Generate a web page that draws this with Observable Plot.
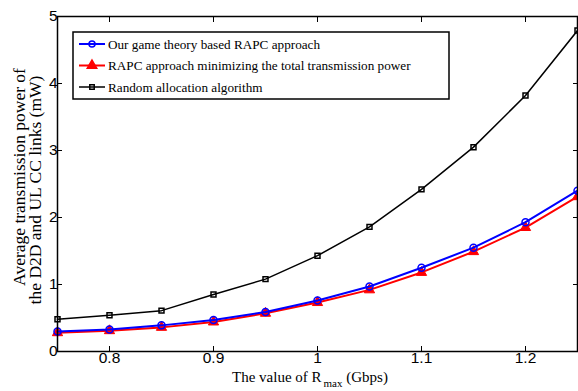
<!DOCTYPE html>
<html>
<head>
<meta charset="utf-8">
<script src="https://cdn.jsdelivr.net/npm/d3@7"></script>
<script src="https://cdn.jsdelivr.net/npm/@observablehq/plot@0.6"></script>
<style>
  html, body { margin: 0; padding: 0; background: #fff; }
  #chart svg { display: block; }
</style>
</head>
<body>
<div id="chart"></div>
<script>
const rmax = [0.75, 0.8, 0.85, 0.9, 0.95, 1.0, 1.05, 1.1, 1.15, 1.2, 1.25];
const gameTheory = [0.30, 0.33, 0.39, 0.47, 0.59, 0.76, 0.97, 1.25, 1.55, 1.93, 2.40];
const minPower   = [0.28, 0.31, 0.36, 0.44, 0.57, 0.73, 0.92, 1.18, 1.49, 1.85, 2.31];
const randomAlloc = [0.48, 0.54, 0.61, 0.85, 1.08, 1.43, 1.86, 2.42, 3.05, 3.82, 4.79];
const xTicks = [0.8, 0.9, 1, 1.1, 1.2];
const yTicks = [0, 1, 2, 3, 4, 5];
const seriesNames = [
  "Our game theory based RAPC approach",
  "RAPC approach minimizing the total transmission power",
  "Random allocation algorithm"
];

const mk = (vals) => rmax.map((x, i) => ({x, y: vals[i]}));
const dGame = mk(gameTheory), dMin = mk(minPower), dRand = mk(randomAlloc);

const serif = "'Liberation Serif', 'Times New Roman', serif";
const sans = "'Liberation Sans', Arial, Helvetica, sans-serif";

const plot = Plot.plot({
  width: 578,
  height: 391,
  marginLeft: 57,
  marginRight: 1,
  marginTop: 16,
  marginBottom: 40,
  style: {fontFamily: sans, fontSize: "15.5px", background: "#fff", color: "#000", overflow: "visible"},
  x: {domain: [0.75, 1.25]},
  y: {domain: [0, 5]},
  marks: [
    Plot.axisX({ticks: xTicks, tickSize: -5, tickPadding: 5, tickFormat: d => String(d), label: null, fontSize: 15.5}),
    Plot.axisX({anchor: "top", ticks: xTicks, tickSize: -5, tickFormat: () => "", label: null}),
    Plot.axisY({ticks: yTicks, tickSize: -5, tickPadding: 5, tickFormat: d => String(d), label: null, fontSize: 15.5}),
    Plot.axisY({anchor: "right", ticks: yTicks, tickSize: -5, tickFormat: () => "", label: null}),
    Plot.line(dRand, {x: "x", y: "y", stroke: "black", strokeWidth: 1.5}),
    Plot.dot(dRand, {x: "x", y: "y", symbol: "square", r: 2.8, stroke: "black", strokeWidth: 1.5, fill: "none"}),
    Plot.line(dMin, {x: "x", y: "y", stroke: "red", strokeWidth: 2}),
    Plot.dot(dMin, {x: "x", y: "y", symbol: "triangle", r: 3.8, fill: "red", stroke: "red", strokeWidth: 1}),
    Plot.line(dGame, {x: "x", y: "y", stroke: "blue", strokeWidth: 2}),
    Plot.dot(dGame, {x: "x", y: "y", symbol: "circle", r: 3.5, stroke: "blue", strokeWidth: 1.5, fill: "none"}),
    Plot.frame({stroke: "black", strokeWidth: 1.5})
  ]
});

document.getElementById("chart").appendChild(plot);

const svg = d3.select(plot);

// Legend
const lg = svg.append("g");
lg.append("rect").attr("x", 73).attr("y", 32).attr("width", 376).attr("height", 67)
  .attr("fill", "#fff").attr("stroke", "#000").attr("stroke-width", 1.5);
const legendItems = [
  {name: seriesNames[0], color: "blue", sym: d3.symbolCircle, r: 3, fill: "none", sw: 2},
  {name: seriesNames[1], color: "red", sym: d3.symbolTriangle, r: 3.5, fill: "red", sw: 2},
  {name: seriesNames[2], color: "black", sym: d3.symbolSquare, r: 2.5, fill: "none", sw: 1.5}
];
legendItems.forEach((it, i) => {
  const cy = 44 + i * 21.5;
  lg.append("line").attr("x1", 79).attr("x2", 105).attr("y1", cy).attr("y2", cy)
    .attr("stroke", it.color).attr("stroke-width", it.sw);
  lg.append("path").attr("d", d3.symbol(it.sym, Math.PI * it.r * it.r)())
    .attr("transform", `translate(92,${cy})`)
    .attr("fill", it.fill).attr("stroke", it.color).attr("stroke-width", 1.5);
  lg.append("text").attr("x", 108).attr("y", cy).attr("dy", "0.35em")
    .attr("text-anchor", "start")
    .attr("font-family", serif).attr("font-size", 13.2).attr("fill", "#000").text(it.name);
});

// X label with subscript
const xl = svg.append("text").attr("x", 232).attr("y", 382)
  .attr("text-anchor", "start")
  .attr("font-family", serif).attr("font-size", 15).attr("fill", "#000");
xl.append("tspan").text("The value of R");
xl.append("tspan").attr("font-size", 11).attr("dx", 2).attr("dy", 5).text("max");
xl.append("tspan").attr("dy", -5).text(" (Gbps)");

// Y label, two lines
svg.append("text").attr("transform", "translate(25,177) rotate(-90)")
  .attr("text-anchor", "middle").attr("font-family", serif).attr("font-size", 17.5).attr("fill", "#000")
  .text("Average transmission power of");
svg.append("text").attr("transform", "translate(41,190) rotate(-90)")
  .attr("text-anchor", "middle").attr("font-family", serif).attr("font-size", 17.5).attr("fill", "#000")
  .text("the D2D and UL CC links (mW)");
</script>
</body>
</html>
